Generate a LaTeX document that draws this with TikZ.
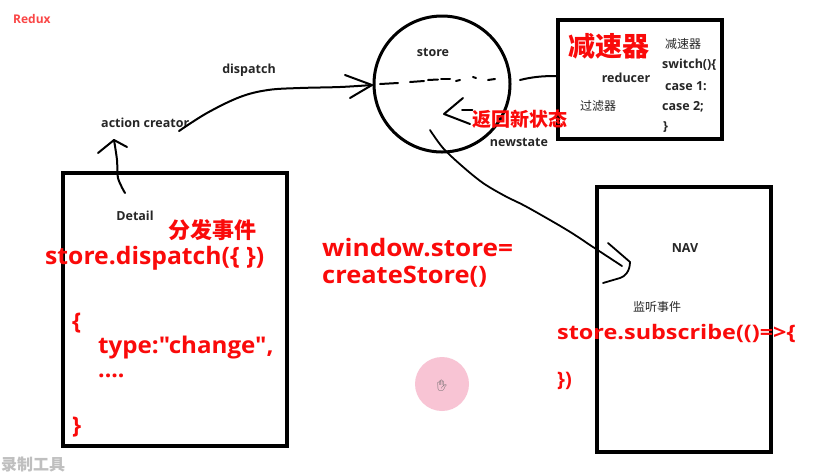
\documentclass[tikz,border=0pt]{standalone}
\usepackage{fontspec}
\usepackage{graphicx}
\setmainfont{Open Sans}[Ligatures=TeXOff]
\newfontfamily\cjk{Noto Sans CJK SC}
\newfontfamily\emojifont{Noto Emoji}
\definecolor{redc}{RGB}{250,10,10}
\definecolor{reduxc}{RGB}{250,70,70}
\definecolor{pinkc}{RGB}{248,196,212}
\tikzset{
  lbl/.style={font=\fontsize{12.5}{14}\selectfont\bfseries, text=black!85, inner sep=0},
  cjks/.style={font=\cjk\fontsize{12}{14}\selectfont, text=black!85, inner sep=0},
  redbig/.style={font=\fontsize{24}{27}\selectfont\bfseries, text=redc, inner sep=0, anchor=west},
  redmid/.style={font=\fontsize{23}{26}\selectfont\bfseries, text=redc, inner sep=0, anchor=west},
  redsub/.style={font=\fontsize{20}{24}\selectfont\bfseries, text=redc, inner sep=0, anchor=west},
  redcjk/.style={font=\cjk\bfseries\fontsize{19}{22}\selectfont, text=redc, inner sep=0},
  pen/.style={line width=2pt, line cap=round, line join=round},
  frame/.style={draw, line width=4pt, inner sep=0}
}
\begin{document}
\begin{tikzpicture}[x=1pt,y=-1pt]
\useasboundingbox (0,0) rectangle (813,475);
\fill[white] (0,0) rectangle (813,475);

% boxes and store
\node[frame, minimum width=224pt, minimum height=273pt] (detailbox) at (175,309.5) {};
\node[frame, minimum width=164pt, minimum height=119pt] (reducerbox) at (640,79.5) {};
\node[frame, minimum width=174pt, minimum height=265pt] (navbox) at (684,319.5) {};
\node[draw, circle, line width=3pt, minimum size=136pt, inner sep=0] (store) at (442,84) {};

% labels
\node[font=\fontsize{12}{13}\selectfont\bfseries, text=reduxc, inner sep=0, anchor=west] (redux) at (13,19) {Redux};
\node[lbl] (dispatchlbl) at (249,70) {dispatch};
\node[lbl, anchor=west] (creator) at (101,123) {action creator};
\node[lbl] (storelbl) at (433,52) {store};
\node[lbl] (reducerlbl) at (626,78) {reducer};
\node[cjks] (filter) at (598,106) {过滤器};
\node[cjks, anchor=west] (rc1) at (665,44) {减速器};
\node[lbl, anchor=west] (rc2) at (662,65) {switch()\{};
\node[lbl, anchor=west] (rc3) at (665,86) {case 1:};
\node[lbl, anchor=west] (rc4) at (662,107) {case 2;};
\node[lbl, anchor=west] (rc5) at (663,127) {\}};
\node[font=\cjk\bfseries\fontsize{27}{30}\selectfont, text=redc, inner sep=0] (reducercn) at (609,46) {减速器};
\node[redcjk] (newcn) at (520,119) {返回新状态};
\node[lbl] (newstate) at (519,142) {newstate};

\node[lbl] (detail) at (135,216) {Detail};
\node[redcjk, font=\cjk\bfseries\fontsize{22}{24}\selectfont] (fenfa) at (212,230) {分发事件};
\node[redbig] (dispatchcall) at (45,258) {\scalebox{1.03}[1]{store.dispatch(\{ \})}};
\node[redmid] (ob) at (72,323) {\{};
\node[redmid] (typel) at (98,348) {\scalebox{1.05}[1]{type:"change",}};
\node[redmid] (dots) at (98,376) {....};
\node[redmid] (cb) at (72,427) {\}};

\node[redbig] (win1) at (322,248) {\scalebox{1.09}[1]{window.store=}};
\node[redbig] (win2) at (322,277) {\scalebox{1.06}[1]{createStore()}};

\node[lbl] (nav) at (685,248) {NAV};
\node[cjks] (listen) at (657,307) {监听事件};
\node[redsub] (subs) at (557,333) {\scalebox{1.17}[1]{store.subscribe(()=>\{}};
\node[redsub] (subsend) at (557,381) {\})};

% cursor highlight
\node[circle, fill=pinkc, minimum size=54pt, inner sep=0] (cursor) at (442,384) {};
\node[font=\emojifont\fontsize{11}{12}\selectfont, text=black!60, inner sep=0] (hand) at (442,386) {✋};

% watermark
\node[font=\cjk\bfseries\fontsize{16}{18}\selectfont, text=black!25, inner sep=0, anchor=west] (wm) at (1,465) {录制工具};

% dispatch curve into store
\coordinate (d0) at (179,131);
\coordinate (d1) at (372,85);
\draw[pen] plot[smooth, tension=0.6] coordinates {(d0) (207,113) (240,97) (268,90) (300,88) (340,87) (d1)};
\draw[pen] (345,75) -- (d1) -- (350,98);

% up arrow from Detail box to action creator
\coordinate (u0) at (125,193);
\coordinate (u1) at (114,140);
\draw[pen] plot[smooth, tension=0.6] coordinates {(u0) (118,178) (117,160) (u1)};
\draw[pen] (98,153) -- (u1) -- (127,147);

% dashed line across store and to reducer
\draw[pen] (380,84) -- (398,83);
\draw[pen] (410,82) -- (424,81);
\draw[pen] (428,80) -- (438,79.5);
\draw[pen] (441,79) -- (450,79);
\draw[pen] (456,81) -- (460,80);
\draw[pen] (473,77) -- (476,78);
\draw[pen] (488,80) -- (495,79);
\draw[pen] (520,80) .. controls (532,77) and (542,76) .. (reducerbox.west |- 0,76);

% return arrow
\coordinate (r0) at (444,114);
\draw[pen] (463,98) -- (r0) -- (470,124);
\draw[pen] (462,110) -- (newcn.west |- 0,110);

% store to NAV
\coordinate (n0) at (430,130);
\coordinate (n1) at (622,266);
\draw[pen, line width=1.8pt] plot[smooth, tension=0.55] coordinates {(n0) (443,148) (462,166) (483,183) (505,196) (527,207) (567,230) (593,247) (n1)};
\draw[pen, line width=1.8pt] (608,243) -- (630,262) .. controls (630,272) and (624,277) .. (620,278) -- (603,283);
\end{tikzpicture}
\end{document}
